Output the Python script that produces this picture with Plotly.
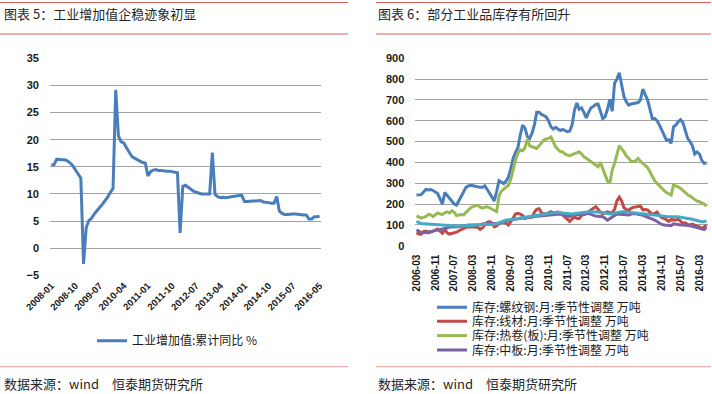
import plotly.graph_objects as go

W, H = 712, 394

def months(y, m, n):
    out = []
    for _ in range(n):
        out.append(f"{y:04d}-{m:02d}")
        m += 1
        if m > 12:
            m = 1
            y += 1
    return out

# ---------------- Left chart data ----------------
left_months = months(2008, 1, 101)
iva_cum_yoy = [
    15.4, 15.4, 16.4, 16.3, 16.3, 16.3, 16.1, 15.7, 15.2, 14.4, 13.7, 12.9,
    -2.9, 3.8, 5.1, 5.5, 6.3, 7.0, 7.5, 8.1, 8.7, 9.4, 10.3, 11.0,
    29.2, 20.7, 19.6, 19.4, 18.5, 17.6, 16.9, 16.6, 16.3, 16.1, 15.8, 15.7,
    13.3, 14.1, 14.4, 14.5, 14.3, 14.3, 14.2, 14.2, 14.2, 14.1, 14.0, 13.9,
    2.8, 11.4, 11.6, 11.2, 10.9, 10.5, 10.3, 10.1, 10.0, 10.0, 10.0, 10.0,
    17.6, 9.9, 9.5, 9.3, 9.4, 9.3, 9.4, 9.5, 9.6, 9.7, 9.7, 9.7,
    8.6, 8.6, 8.7, 8.7, 8.7, 8.8, 8.8, 8.5, 8.5, 8.4, 8.3, 8.3,
    9.5, 6.8, 6.4, 6.2, 6.2, 6.3, 6.3, 6.3, 6.2, 6.1, 6.1, 6.1,
    5.4, 5.4, 5.8, 5.8, 5.9,
]
left_ticks = ["2008-01", "2008-10", "2009-07", "2010-04", "2011-01", "2011-10",
              "2012-07", "2013-04", "2014-01", "2014-10", "2015-07", "2016-05"]
left_yticks = [-5, 0, 5, 10, 15, 20, 25, 30, 35]

# ---------------- Right chart data ----------------
right_months = months(2006, 3, 124)
rebar = [
    243, 243, 245, 258, 270, 268, 270, 265, 258, 250, 225, 200,
    255, 242, 230, 215, 200, 195, 215, 240, 262, 280, 287, 290,
    288, 285, 283, 280, 280, 287, 270, 250, 230, 215, 260, 312,
    305, 298, 310, 330, 370, 420, 448, 470, 530, 579, 565, 525,
    515, 540, 580, 640, 640, 630, 625, 618, 600, 571, 560, 568,
    560, 553, 558, 552, 547, 550, 580, 650, 685, 655, 662, 640,
    613, 640, 662, 668, 678, 680, 650, 610, 620, 655, 703, 645,
    780, 800, 830, 770, 715, 690, 675, 680, 683, 685, 687, 700,
    752, 725, 700, 655, 610, 610, 600, 580, 555, 525, 507, 508,
    491, 571, 579, 595, 605, 590, 547, 515, 500, 480, 440, 450,
    440, 410, 395, 397,
]
wire_rod = [
    62, 56, 55, 68, 70, 62, 65, 72, 75, 80, 68, 60,
    78, 62, 56, 58, 62, 65, 72, 78, 82, 88, 91, 90,
    90, 91, 88, 78, 85, 100, 112, 115, 108, 90, 95, 107,
    112, 115, 108, 99, 115, 135, 152, 155, 152, 145, 131, 135,
    137, 137, 160, 175, 178, 158, 153, 152, 158, 163, 157, 160,
    162, 158, 148, 135, 125, 117, 128, 138, 132, 130, 145, 150,
    157, 163, 172, 180, 187, 175, 160, 153, 158, 162, 158, 158,
    175, 215, 233, 215, 182, 173, 172, 178, 185, 186, 188, 190,
    172, 174, 172, 160, 150, 155, 162, 145, 135, 132, 125, 117,
    125, 123, 123, 127, 115, 107, 110, 102, 100, 104, 99, 95,
    90, 83, 90, 98,
]
hot_coil = [
    143, 138, 132, 136, 140, 150, 148, 140, 148, 157, 152, 150,
    158, 162, 157, 168, 160, 145, 147, 150, 148, 160, 173, 182,
    188, 192, 195, 185, 180, 185, 187, 182, 175, 168, 163, 240,
    262, 272, 280, 290, 320, 370, 410, 445, 459, 456, 470, 511,
    480, 475, 472, 467, 480, 495, 507, 512, 515, 522, 500, 475,
    462, 452, 450, 440, 435, 432, 437, 442, 448, 451, 440, 427,
    420, 411, 405, 397, 385, 379, 400, 370, 345, 310, 300, 363,
    395, 440, 480, 465, 451, 430, 420, 405, 403, 408, 419, 405,
    395, 385, 375, 355, 335, 312, 300, 287, 278, 265, 255, 248,
    243, 291, 287, 283, 275, 264, 258, 245, 238, 230, 222, 214,
    211, 206, 200, 190,
]
medium_plate = [
    77, 70, 63, 62, 65, 66, 68, 70, 72, 75, 77, 78,
    80, 85, 90, 90, 88, 89, 91, 93, 96, 99, 99, 99,
    99, 98, 99, 101, 104, 106, 108, 108, 106, 105, 106, 108,
    112, 116, 120, 122, 124, 126, 127, 129, 131, 133, 135, 137,
    139, 139, 140, 141, 142, 144, 146, 147, 148, 149, 150, 150,
    151, 152, 150, 147, 143, 139, 145, 152, 150, 148, 147, 150,
    153, 155, 150, 145, 142, 141, 140, 139, 132, 123, 130, 139,
    145, 152, 152, 152, 151, 149, 147, 150, 155, 153, 152, 149,
    146, 142, 139, 133, 128, 123, 115, 107, 102, 99, 98, 97,
    96, 105, 103, 99, 99, 99, 99, 97, 96, 93, 90, 85,
    83, 79, 77, 88,
]
unlabeled_cyan = [
    117, 110, 106, 105, 104, 104, 103, 102, 101, 100, 100, 99,
    99, 98, 97, 95, 94, 94, 94, 94, 94, 95, 96, 97,
    98, 99, 101, 103, 104, 103, 102, 101, 100, 102, 106, 111,
    116, 120, 123, 124, 125, 127, 129, 131, 133, 135, 137, 139,
    141, 142, 143, 145, 147, 149, 152, 154, 155, 157, 158, 159,
    160, 159, 157, 155, 154, 153, 152, 154, 156, 158, 160, 162,
    163, 163, 163, 163, 163, 162, 161, 159, 157, 154, 152, 154,
    157, 160, 162, 163, 163, 163, 162, 160, 158, 157, 155, 154,
    153, 152, 151, 149, 148, 147, 147, 147, 145, 142, 140, 140,
    142, 140, 139, 139, 137, 136, 134, 131, 129, 126, 123, 120,
    116, 115, 116, 118,
]
right_ticks = ["2006-03", "2006-11", "2007-07", "2008-03", "2008-11", "2009-07",
               "2010-03", "2010-11", "2011-07", "2012-03", "2012-11", "2013-07",
               "2014-03", "2014-11", "2015-07", "2016-03"]
right_yticks = [0, 100, 200, 300, 400, 500, 600, 700, 800, 900]

names = ["库存:螺纹钢:月:季节性调整 万吨", "库存:线材:月:季节性调整 万吨",
         "库存:热卷(板):月:季节性调整 万吨", "库存:中板:月:季节性调整 万吨"]

# ---------------- Styling ----------------
CJK = "Noto Sans CJK SC"
NUM = "Liberation Sans"
GRID = "#a3a3a3"
TXT = "#1a1a1a"

def px_x(p):
    return p / W

def px_y(p):
    return 1 - p / H

fig = go.Figure()

fig.add_trace(go.Scatter(
    x=left_months, y=iva_cum_yoy, mode="lines", name="工业增加值:累计同比 %",
    line=dict(color="#4a7ebb", width=3), xaxis="x", yaxis="y", legend="legend"))

colors = ["#4a7ebb", "#be4b48", "#98b954", "#7d60a0"]
series = [rebar, wire_rod, hot_coil, medium_plate]
legend_ids = ["legend2", "legend3", "legend4", "legend5"]
for nm, s, c, lg in zip(names, series, colors, legend_ids):
    fig.add_trace(go.Scatter(
        x=right_months, y=s, mode="lines", name=nm,
        line=dict(color=c, width=3), xaxis="x2", yaxis="y2", legend=lg))
fig.add_trace(go.Scatter(
    x=right_months, y=unlabeled_cyan, mode="lines", name="",
    line=dict(color="#46aac5", width=3), xaxis="x2", yaxis="y2", showlegend=False))

tickfont_y = dict(family=NUM, size=11, color=TXT, weight="bold")

fig.update_layout(
    width=W, height=H, margin=dict(l=0, r=0, t=0, b=0, pad=0, autoexpand=False),
    paper_bgcolor="white", plot_bgcolor="white",
    xaxis=dict(domain=[px_x(50), px_x(321)], type="category",
               categoryorder="array", categoryarray=left_months,
               range=[-0.5, len(left_months) - 0.5],
               tickmode="array", tickvals=left_ticks, ticktext=left_ticks,
               tickangle=-45, tickfont=dict(family=NUM, size=9.5, color=TXT, weight="bold"),
               showgrid=False, showline=False, zeroline=False, ticks="", anchor="y",
               automargin=False, ticklabelstandoff=2),
    yaxis=dict(domain=[px_y(275.3), px_y(58.3)], range=[-5, 35],
               tickmode="array", tickvals=left_yticks,
               tickfont=tickfont_y, showgrid=True, gridcolor=GRID, gridwidth=1,
               zeroline=False, showline=False, ticks="", ticklabelstandoff=10,
               anchor="x", automargin=False),
    xaxis2=dict(domain=[px_x(415.3), px_x(707.7)], type="category",
                categoryorder="array", categoryarray=right_months,
                range=[-0.5, len(right_months) - 0.5],
                tickmode="array", tickvals=right_ticks, ticktext=right_ticks,
                tickangle=-90, tickfont=dict(family=NUM, size=10, color=TXT, weight="bold"),
                showgrid=False, showline=False, zeroline=False, ticks="", anchor="y2",
                ticklabelstandoff=6, automargin=False),
    yaxis2=dict(domain=[px_y(245.7), px_y(58.2)], range=[0, 900],
                tickmode="array", tickvals=right_yticks,
                tickfont=tickfont_y, showgrid=True, gridcolor=GRID, gridwidth=1,
                zeroline=False, showline=False, ticks="", ticklabelstandoff=10,
                anchor="x2", automargin=False),
    showlegend=True,
)

legend_font = dict(family=CJK, size=12, color=TXT)
def leg(xp, yp):
    return dict(x=px_x(xp), y=px_y(yp), xanchor="left", yanchor="middle",
                orientation="v", font=legend_font, bgcolor="rgba(0,0,0,0)",
                borderwidth=0, itemwidth=30, tracegroupgap=0)

fig.update_layout(
    legend=leg(92, 340.7),
    legend2=leg(432, 307.3),
    legend3=leg(432, 321.3),
    legend4=leg(432, 335.6),
    legend5=leg(432, 350.0),
)

# header / footer rules
red = "#e06060"
shapes = []
for (x0, x1) in [(0, 348), (376, 711)]:
    for yy in (2.5, 34):
        shapes.append(dict(type="line", xref="paper", yref="paper",
                           x0=px_x(x0), x1=px_x(x1), y0=px_y(yy), y1=px_y(yy),
                           line=dict(color=red, width=1.2)))
    shapes.append(dict(type="line", xref="paper", yref="paper",
                       x0=px_x(x0), x1=px_x(x1), y0=px_y(366.7), y1=px_y(366.7),
                       line=dict(color="#e8a0a0", width=1)))
fig.update_layout(shapes=shapes)

title_font = dict(family=CJK, size=13, color="#262626")
annotations = [
    dict(text="图表 5：工业增加值企稳迹象初显", x=px_x(2), y=px_y(14)),
    dict(text="图表 6：部分工业品库存有所回升", x=px_x(376), y=px_y(14)),
    dict(text="数据来源：wind　恒泰期货研究所", x=px_x(2), y=px_y(383.5)),
    dict(text="数据来源：wind　恒泰期货研究所", x=px_x(376), y=px_y(383.5)),
]
for a in annotations:
    a.update(xref="paper", yref="paper", xanchor="left", yanchor="middle",
             showarrow=False, font=title_font)
fig.update_layout(annotations=annotations)

fig.write_html(
    "out.html",
    config={"displayModeBar": False},
    post_script="document.body.style.margin='0';document.body.style.overflow='hidden';",
)
